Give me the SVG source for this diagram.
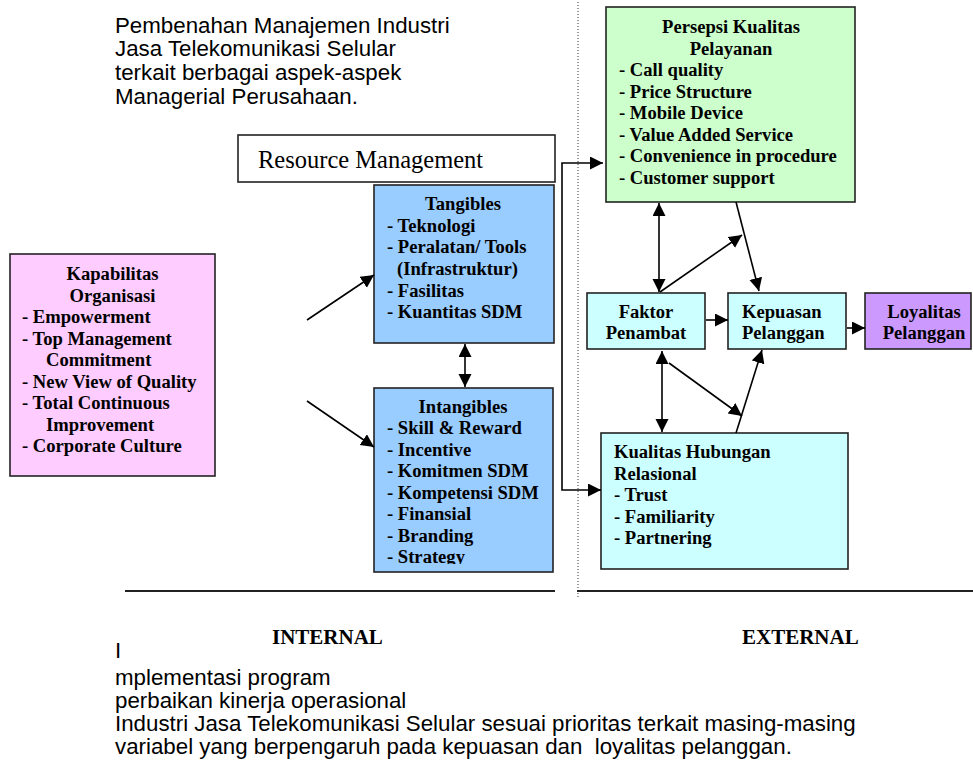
<svg xmlns="http://www.w3.org/2000/svg" width="973" height="767" viewBox="0 0 973 767">
<style>
.b{font-family:"Liberation Serif","Times New Roman",serif;font-weight:bold;font-size:18.6px;fill:#000}
.c{text-anchor:middle}
.s{font-family:"Liberation Sans",Arial,sans-serif;font-size:22.3px;fill:#000}
.box{stroke:#222;stroke-width:1.6}
.ln{stroke:#000;stroke-width:1.6;fill:none}
.hd{font-family:"Liberation Serif","Times New Roman",serif;font-weight:bold;font-size:21px;fill:#000}
</style>
<defs>
<marker id="ah" markerUnits="userSpaceOnUse" markerWidth="14" markerHeight="14" viewBox="0 0 14 14" refX="13" refY="6.5" orient="auto-start-reverse">
<path d="M0,0 L13,6.5 L0,13 z" fill="#000"/>
</marker>
<clipPath id="clipI"><rect x="374" y="388" width="180" height="176"/></clipPath>
</defs>
<rect width="973" height="767" fill="#fff"/>

<g id="title">
<text class="s" x="115" y="32.5">Pembenahan Manajemen Industri</text>
<text class="s" x="115" y="56.4">Jasa Telekomunikasi Selular</text>
<text class="s" x="115" y="80.3">terkait berbagai aspek-aspek</text>
<text class="s" x="115" y="104.2">Managerial Perusahaan.</text>
</g>

<g id="dividers">
<line x1="578" y1="2" x2="578" y2="597" stroke="#333" stroke-width="1" stroke-dasharray="1,2"/>
<line x1="125" y1="591" x2="555" y2="591" stroke="#222" stroke-width="2"/>
<line x1="577" y1="591" x2="973" y2="591" stroke="#222" stroke-width="2"/>
</g>

<g id="kapabilitas">
<rect class="box" x="10" y="254" width="205" height="222" fill="#FFCCFF"/>
<text class="b c" x="112.5" y="280">Kapabilitas</text>
<text class="b c" x="112.5" y="301.5">Organisasi</text>
<text class="b" x="22" y="323">- Empowerment</text>
<text class="b" x="22" y="344.5">- Top Management</text>
<text class="b" x="46" y="366">Commitment</text>
<text class="b" x="22" y="387.5">- New View of Quality</text>
<text class="b" x="22" y="409">- Total Continuous</text>
<text class="b" x="46" y="430.5">Improvement</text>
<text class="b" x="22" y="452">- Corporate Culture</text>
</g>

<g id="resource">
<rect class="box" x="238" y="135" width="317" height="47" fill="#fff"/>
<text x="258" y="168" font-family="Liberation Serif,Times New Roman,serif" font-size="24.5" fill="#000">Resource Management</text>
</g>

<g id="tangibles">
<rect class="box" x="374" y="185" width="180" height="158" fill="#99CCFF"/>
<text class="b c" x="463" y="210">Tangibles</text>
<text class="b" x="387" y="231.7">- Teknologi</text>
<text class="b" x="387" y="253.3">- Peralatan/ Tools</text>
<text class="b" x="397" y="275">(Infrastruktur)</text>
<text class="b" x="387" y="296.7">- Fasilitas</text>
<text class="b" x="387" y="318.3">- Kuantitas SDM</text>
</g>

<g id="intangibles">
<rect class="box" x="374" y="388" width="179" height="184" fill="#99CCFF"/>
<g clip-path="url(#clipI)">
<text class="b c" x="463" y="413">Intangibles</text>
<text class="b" x="387" y="434.4">- Skill &amp; Reward</text>
<text class="b" x="387" y="455.9">- Incentive</text>
<text class="b" x="387" y="477.3">- Komitmen SDM</text>
<text class="b" x="387" y="498.7">- Kompetensi SDM</text>
<text class="b" x="387" y="520.1">- Finansial</text>
<text class="b" x="387" y="541.6">- Branding</text>
<text class="b" x="387" y="563">- Strategy</text>
</g>
</g>

<g id="persepsi">
<rect class="box" x="606" y="7" width="249" height="195" fill="#CCFFCC"/>
<text class="b c" x="731" y="33">Persepsi Kualitas</text>
<text class="b c" x="731" y="54.5">Pelayanan</text>
<text class="b" x="619" y="76">- Call quality</text>
<text class="b" x="619" y="97.5">- Price Structure</text>
<text class="b" x="619" y="119">- Mobile Device</text>
<text class="b" x="619" y="140.5">- Value Added Service</text>
<text class="b" x="619" y="162">- Convenience in procedure</text>
<text class="b" x="619" y="183.5">- Customer support</text>
</g>

<g id="faktor">
<rect class="box" x="587" y="293" width="118" height="56" fill="#CCFFFF"/>
<text class="b c" x="646" y="318.3">Faktor</text>
<text class="b c" x="646" y="339.3">Penambat</text>
</g>

<g id="kepuasan">
<rect class="box" x="728" y="293" width="118" height="56" fill="#CCFFFF"/>
<text class="b" x="742" y="318.3">Kepuasan</text>
<text class="b" x="742" y="339.3">Pelanggan</text>
</g>

<g id="loyalitas">
<rect class="box" x="865" y="293" width="106" height="56" fill="#CC99FF"/>
<text class="b c" x="924" y="318.3">Loyalitas</text>
<text class="b c" x="924" y="339.3">Pelanggan</text>
</g>

<g id="kualitas">
<rect class="box" x="601" y="433" width="247" height="136" fill="#CCFFFF"/>
<text class="b" x="614" y="458.3">Kualitas Hubungan</text>
<text class="b" x="614" y="479.8">Relasional</text>
<text class="b" x="614" y="501.3">- Trust</text>
<text class="b" x="614" y="522.8">- Familiarity</text>
<text class="b" x="614" y="544.3">- Partnering</text>
</g>

<g id="connectors">
<line class="ln" x1="307" y1="320" x2="374" y2="275" marker-end="url(#ah)"/>
<line class="ln" x1="307" y1="401" x2="374" y2="447" marker-end="url(#ah)"/>
<line class="ln" x1="465" y1="344" x2="465" y2="387" marker-start="url(#ah)" marker-end="url(#ah)"/>
<path class="ln" d="M603,163 H562 V490 H601" marker-start="url(#ah)" marker-end="url(#ah)"/>
<line class="ln" x1="659" y1="203" x2="659" y2="292" marker-start="url(#ah)" marker-end="url(#ah)"/>
<line class="ln" x1="660" y1="292" x2="742" y2="235" marker-end="url(#ah)"/>
<line class="ln" x1="736" y1="202" x2="759" y2="291" marker-end="url(#ah)"/>
<line class="ln" x1="706" y1="320" x2="728" y2="320" marker-end="url(#ah)"/>
<line class="ln" x1="847" y1="328" x2="865" y2="328" marker-end="url(#ah)"/>
<line class="ln" x1="662" y1="351" x2="662" y2="432" marker-start="url(#ah)" marker-end="url(#ah)"/>
<line class="ln" x1="669" y1="363" x2="742" y2="416" marker-end="url(#ah)"/>
<line class="ln" x1="736" y1="433" x2="762" y2="350" marker-end="url(#ah)"/>
</g>

<g id="labels">
<text class="hd" x="272" y="644">INTERNAL</text>
<text class="hd" x="742" y="644">EXTERNAL</text>
</g>

<g id="footer">
<text class="s" x="115" y="658">I</text>
<text class="s" x="115" y="685">mplementasi program</text>
<text class="s" x="115" y="708">perbaikan kinerja operasional</text>
<text class="s" x="115" y="731">Industri Jasa Telekomunikasi Selular sesuai prioritas terkait masing-masing</text>
<text class="s" x="115" y="754" xml:space="preserve">variabel yang berpengaruh pada kepuasan dan  loyalitas pelanggan.</text>
</g>
</svg>
